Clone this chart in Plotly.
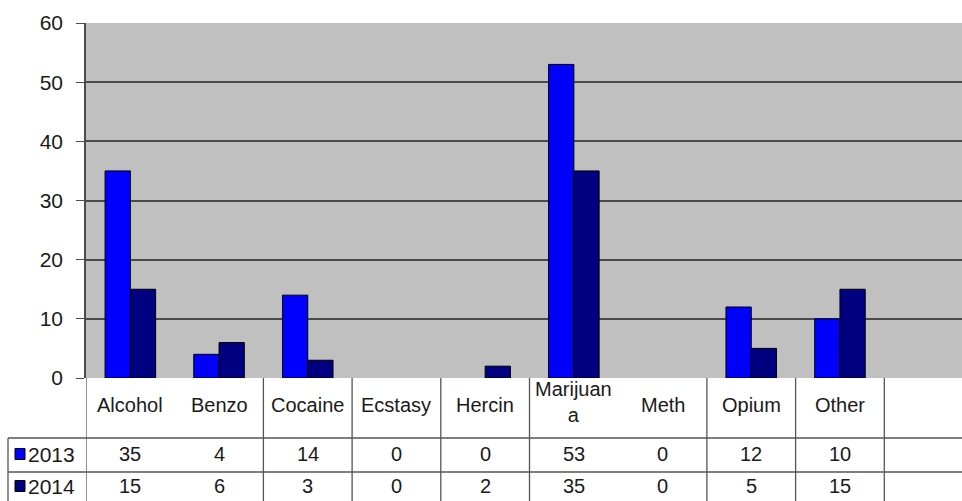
import plotly.graph_objects as go

categories = ["Alcohol", "Benzo", "Cocaine", "Ecstasy", "Hercin", "Marijuana", "Meth", "Opium", "Other"]
header_labels = ["Alcohol", "Benzo", "Cocaine", "Ecstasy", "Hercin", "Marijuan<br>a", "Meth", "Opium", "Other"]
series_names = ["2013", "2014"]
values_2013 = [35, 4, 14, 0, 0, 53, 0, 12, 10]
values_2014 = [15, 6, 3, 0, 2, 35, 0, 5, 15]
colors = ["#0000FF", "#000080"]
y_ticks = [0, 10, 20, 30, 40, 50, 60]

W, H = 962, 501
L, T, B = 86, 23, 123
plot_h = H - T - B
plot_w = W - L
col_w = 88.7
x_max = -0.5 + plot_w / col_w

def py(p):
    return (H - B - p) / plot_h

def px(p):
    return (p - L) / plot_w

FONT = "Liberation Sans, Arial, sans-serif"
TXT = "#1a1a1a"
FS = 20
x_idx = list(range(len(categories)))

fig = go.Figure()
for name, vals, c in zip(series_names, [values_2013, values_2014], colors):
    fig.add_trace(go.Bar(x=x_idx, y=vals, name=name,
                         marker=dict(color=c, line=dict(color="#000000", width=[1 if v > 0 else 0 for v in vals])),
                         hoverinfo="y"))

shapes = []
line_c = "#555555"
for b in [0, 2, 3, 4, 5, 7, 8, 9]:
    shapes.append(dict(type="line", xref="x", yref="paper", x0=b - 0.5, x1=b - 0.5,
                       y0=py(378), y1=py(501), line=dict(color=line_c, width=1.3)))
for yy in [438, 472]:
    shapes.append(dict(type="line", xref="paper", yref="paper", x0=px(8), x1=1,
                       y0=py(yy), y1=py(yy), line=dict(color=line_c, width=1.3)))
shapes.append(dict(type="line", xref="paper", yref="paper", x0=px(8), x1=px(8),
                   y0=py(438), y1=py(501), line=dict(color=line_c, width=1.3)))
row_y = [454, 486]
for i, c in enumerate(colors):
    yc = row_y[i]
    shapes.append(dict(type="rect", xref="paper", yref="paper", x0=px(15), x1=px(25),
                       y0=py(yc + 5.5), y1=py(yc - 5.5), fillcolor=c, line=dict(color="#000000", width=1)))

annotations = []
for i, lab in enumerate(header_labels):
    two = "<br>" in lab
    annotations.append(dict(x=i, y=py(405 if not two else 402), xref="x", yref="paper", text=lab, showarrow=False,
                            font=dict(size=FS, color=TXT, family=FONT), xanchor="center", yanchor="middle"))
for r, (name, vals) in enumerate(zip(series_names, [values_2013, values_2014])):
    yc = row_y[r]
    annotations.append(dict(x=px(26), y=py(yc), xref="paper", yref="paper", text=name, showarrow=False,
                            font=dict(size=FS + 1, color=TXT, family=FONT), xanchor="left", yanchor="middle"))
    for i, v in enumerate(vals):
        annotations.append(dict(x=i, y=py(yc), xref="x", yref="paper", text=str(v), showarrow=False,
                                font=dict(size=FS, color=TXT, family=FONT), xanchor="center", yanchor="middle"))

fig.update_layout(
    width=W, height=H,
    margin=dict(l=L, r=0, t=T, b=B, pad=0),
    paper_bgcolor="#FFFFFF", plot_bgcolor="#C0C0C0",
    barmode="group", bargap=0.43, bargroupgap=0,
    showlegend=False,
    shapes=shapes, annotations=annotations,
    xaxis=dict(range=[-0.5, x_max], showticklabels=False, showgrid=False, zeroline=False,
               ticks="", fixedrange=True),
    yaxis=dict(range=[0, 60], tickvals=y_ticks, showgrid=True, gridcolor="#4a4a4a", gridwidth=1.5,
               zeroline=False, showline=True, linecolor="#4a4a4a", linewidth=1.5,
               ticks="outside", ticklen=8, tickcolor="#4a4a4a", ticklabelstandoff=9,
               tickfont=dict(size=FS + 1, color=TXT, family=FONT), fixedrange=True),
    font=dict(family=FONT),
)

fig.write_html("out.html", config={"displayModeBar": False},
               post_script="document.body.style.margin='0';document.body.style.overflow='hidden';")
